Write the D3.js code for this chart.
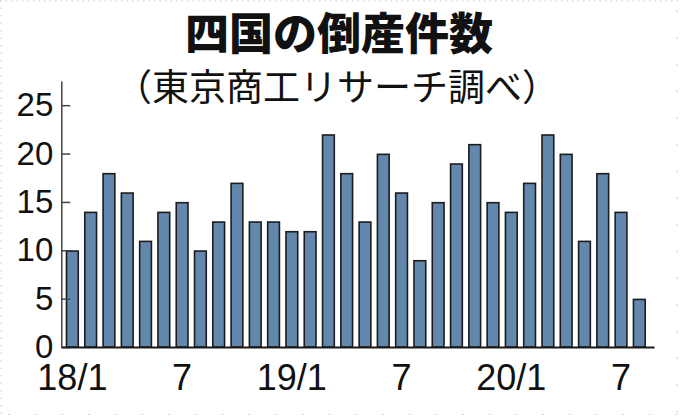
<!DOCTYPE html>
<html>
<head>
<meta charset="utf-8">
<script src="https://cdn.jsdelivr.net/npm/d3@7"></script>
<style>
  html, body { margin: 0; padding: 0; background: #fff; }
  svg { display: block; }
</style>
</head>
<body>
<svg id="chart" width="680" height="417"></svg>
<script>
// ---- data ----
const titleText = "四国の倒産件数";
const subtitleText = "（東京商工リサーチ調べ）";
const categories = [
  "18/1","18/2","18/3","18/4","18/5","18/6","18/7","18/8","18/9","18/10","18/11","18/12",
  "19/1","19/2","19/3","19/4","19/5","19/6","19/7","19/8","19/9","19/10","19/11","19/12",
  "20/1","20/2","20/3","20/4","20/5","20/6","20/7","20/8"
];
const values = [
  10,14,18,16,11,14,15,10,13,17,13,13,
  12,12,22,18,13,20,16,9,15,19,21,15,
  14,17,22,20,11,18,14,5
];
const xTickCategories = ["18/1","18/7","19/1","19/7","20/1","20/7"];
const xTickLabels = ["18/1","7","19/1","7","20/1","7"];
const yTicks = [0,5,10,15,20,25];

// ---- drawing ----
(function () {
const svg = d3.select("#chart");
const W = 680, H = 417;
const mLeft = 61.3, mRight = 654, mBottom = 347, mTop = 81;

// faint dotted page frame
const frame = svg.append("g").attr("stroke", "#d4d4d4").attr("stroke-width", 1.2);
frame.append("line").attr("x1", 0).attr("x2", W).attr("y1", 0.8).attr("y2", 0.8).attr("stroke-dasharray", "1.5,4");
frame.append("line").attr("x1", 1).attr("x2", 1).attr("y1", 0).attr("y2", H).attr("stroke-dasharray", "1.5,6");
frame.append("line").attr("x1", 677).attr("x2", 677).attr("y1", 10).attr("y2", H).attr("stroke-dasharray", "2,24.7");
frame.append("line").attr("x1", 8).attr("x2", W).attr("y1", 414.5).attr("y2", 414.5).attr("stroke-dasharray", "2,24.7");

const x = d3.scaleBand()
  .domain(categories)
  .range([mLeft, mRight])
  .paddingInner(0.27)
  .paddingOuter(0.339)
  .align(0.355);

const y = d3.scaleLinear().domain([0, 27.5]).range([mBottom, mTop]);

// title
svg.append("text")
  .attr("x", 339).attr("y", 50)
  .attr("text-anchor", "middle")
  .attr("font-family", "'Noto Sans CJK JP', sans-serif")
  .attr("font-weight", 900)
  .attr("font-size", 44)
  .attr("fill", "#111")
  .text(titleText);

svg.append("text")
  .attr("x", 337).attr("y", 101)
  .attr("text-anchor", "middle")
  .attr("font-family", "'Noto Sans CJK JP', sans-serif")
  .attr("font-weight", 400)
  .attr("font-size", 37)
  .attr("fill", "#111")
  .text(subtitleText);

// bars
const sw = 1.6;
svg.append("g").selectAll("rect")
  .data(values)
  .join("rect")
  .attr("x", (d, i) => x(categories[i]) + sw / 2)
  .attr("width", x.bandwidth() - sw)
  .attr("y", d => y(d) + sw / 2)
  .attr("height", d => y(0) - y(d) - sw / 2)
  .attr("fill", "#6387ad")
  .attr("stroke", "#1c1c1c")
  .attr("stroke-width", sw);

// y axis
const yAxis = d3.axisLeft(y)
  .tickValues(yTicks)
  .tickSizeInner(-9)
  .tickSizeOuter(0)
  .tickPadding(8)
  .tickFormat(d3.format("d"));

const gy = svg.append("g")
  .attr("transform", `translate(${mLeft},0)`)
  .call(yAxis);
gy.select(".domain").attr("stroke", "#444").attr("stroke-width", 1.5);
gy.selectAll(".tick line").attr("stroke", "#444").attr("stroke-width", 1.5);
gy.selectAll(".tick text")
  .attr("font-family", "'Liberation Sans Narrow', 'Arial Narrow', 'Liberation Sans', sans-serif")
  .attr("font-size", 33)
  .attr("fill", "#111");

// x axis
const labelMap = new Map(xTickCategories.map((c, i) => [c, xTickLabels[i]]));
const xAxis = d3.axisBottom(x)
  .tickValues(xTickCategories)
  .tickSize(0)
  .tickPadding(17)
  .tickFormat(d => labelMap.get(d));

const gx = svg.append("g")
  .attr("transform", `translate(0,${mBottom})`)
  .call(xAxis);
gx.select(".domain").attr("stroke", "#1a1a1a").attr("stroke-width", 2);
gx.selectAll(".tick text")
  .attr("font-family", "'Liberation Sans Narrow', 'Arial Narrow', 'Liberation Sans', sans-serif")
  .attr("font-size", 36)
  .attr("fill", "#111");
})();
</script>
</body>
</html>
